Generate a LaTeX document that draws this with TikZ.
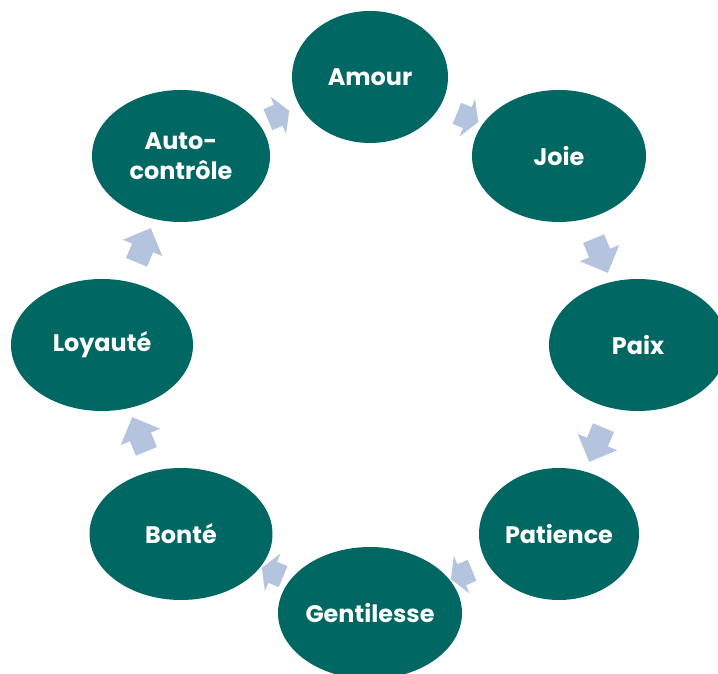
\documentclass[tikz,border=0pt]{standalone}
\usepackage{fontspec}
\setmainfont{Poppins}
\usetikzlibrary{shapes.geometric, shapes.arrows, calc}
\definecolor{virtueteal}{HTML}{006763}
\definecolor{arrowblue}{HTML}{B4C3DE}
\tikzset{
  virtue/.style={ellipse, fill=virtueteal, text=white, inner sep=0pt, align=center,
    minimum height=2.64cm, font=\bfseries\fontsize{13.6}{17}\selectfont},
  cyclearrow/.style={single arrow, fill=arrowblue, inner xsep=0pt, inner ysep=0.22cm,
    single arrow head extend=0.2cm, minimum height=0.74cm},
  shortarrow/.style={cyclearrow, minimum height=0.46cm, single arrow head extend=0.18cm,
    single arrow tip angle=120}
}
\begin{document}
\begin{tikzpicture}
  \clip (0, 0) rectangle (14.36, 13.46);
  \fill [white] (0, 0) rectangle (14.36, 13.46);
  % the eight virtues
  \node [virtue, minimum width=3.12cm] (amour) at (7.40, 11.92) {Amour};
  \node [virtue, minimum width=3.48cm] (joie) at (11.18, 10.34) {Joie};
  \node [virtue, minimum width=3.56cm] (paix) at (12.76, 6.56) {Paix};
  \node [virtue, minimum width=3.20cm] (patience) at (11.18, 2.78) {Patience};
  \node [virtue, minimum width=3.68cm] (gentilesse) at (7.40, 1.20) {Gentilesse};
  \node [virtue, minimum width=3.66cm] (bonte) at (3.62, 2.78) {Bonté};
  \node [virtue, minimum width=3.64cm] (loyaute) at (2.04, 6.56) {Loyauté};
  \node [virtue, minimum width=3.56cm] (autocontrole) at (3.62, 10.34) {Auto-\\contrôle};
  % arrows between them
  \node [shortarrow, rotate=-22.5] (a1) at ($(amour)!0.5!(joie)$) {};
  \node [cyclearrow, rotate=-67.5] (a2) at ($(joie)!0.5!(paix)$) {};
  \node [cyclearrow, rotate=-112.5] (a3) at ($(paix)!0.5!(patience)$) {};
  \node [shortarrow, rotate=-157.5] (a4) at ($(patience)!0.5!(gentilesse)$) {};
  \node [shortarrow, rotate=157.5] (a5) at ($(gentilesse)!0.5!(bonte)$) {};
  \node [cyclearrow, rotate=112.5] (a6) at ($(bonte)!0.5!(loyaute)$) {};
  \node [cyclearrow, rotate=67.5] (a7) at ($(loyaute)!0.5!(autocontrole)$) {};
  \node [shortarrow, rotate=22.5] (a8) at ($(autocontrole)!0.5!(amour)$) {};
\end{tikzpicture}
\end{document}
